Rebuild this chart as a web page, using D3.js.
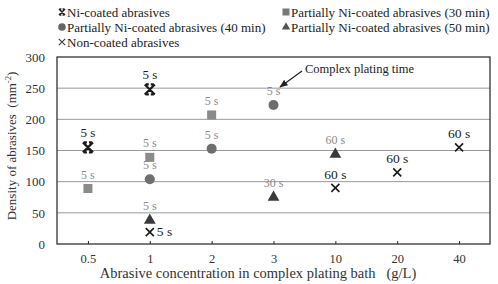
<!DOCTYPE html>
<html>
<head>
<meta charset="utf-8">
<script src="https://cdn.jsdelivr.net/npm/d3@7"></script>
<style>
body { margin: 0; background: #fff; }
</style>
</head>
<body>
<div id="chart"></div>
<script>
// categories on the x axis
var concentrations = ["0.5", "1", "2", "3", "10", "20", "40"];
var yTicks = [0, 50, 100, 150, 200, 250, 300];

// series: [concentration, density, label]
var niCoated = [["0.5", 155, "5 s"], ["1", 248, "5 s"]];
var partial30 = [["0.5", 89, "5 s"], ["1", 139, "5 s"], ["2", 207, "5 s"]];
var partial40 = [["1", 104, "5 s"], ["2", 153, "5 s"], ["3", 223, "5 s"]];
var partial50 = [["1", 38, "5 s"], ["3", 75, "30 s"], ["10", 144, "60 s"]];
var nonCoated = [["1", 19, "5 s"], ["10", 90, "60 s"], ["20", 115, "60 s"], ["40", 155, "60 s"]];

var width = 498, height = 284;
var margin = {top: 57, right: 8, bottom: 40, left: 57};
var serif = "Liberation Serif";

var svg = d3.select("#chart").append("svg")
	.attr("width", width)
	.attr("height", height);

var x = d3.scalePoint()
	.domain(concentrations)
	.range([margin.left, width - margin.right])
	.padding(0.5);

var y = d3.scaleLinear()
	.domain([0, 300])
	.range([height - margin.bottom, margin.top]);

// gridlines
svg.selectAll("line.grid")
	.data(yTicks.filter(function(d){ return d > 0 && d < 300; }))
	.enter().append("line")
	.attr("x1", margin.left).attr("x2", width - margin.right)
	.attr("y1", function(d){ return y(d); })
	.attr("y2", function(d){ return y(d); })
	.attr("stroke", "#9a9a9a")
	.attr("stroke-width", 1);

// frame
svg.append("rect")
	.attr("x", margin.left).attr("y", margin.top)
	.attr("width", width - margin.left - margin.right)
	.attr("height", height - margin.top - margin.bottom)
	.attr("fill", "none")
	.attr("stroke", "#222")
	.attr("stroke-width", 1.2);

// y axis
var yAxis = svg.append("g")
	.attr("transform", "translate(" + margin.left + ",0)")
	.call(d3.axisLeft(y).tickValues(yTicks).tickSize(0).tickPadding(12));
yAxis.select(".domain").remove();
yAxis.selectAll("text").attr("font-size", 13).attr("fill", "#333");

// x axis
var xAxis = svg.append("g")
	.attr("transform", "translate(0," + (height - margin.bottom) + ")")
	.call(d3.axisBottom(x).tickSize(3).tickPadding(7));
xAxis.select(".domain").remove();
xAxis.selectAll("line").attr("y1", -3).attr("y2", 0).attr("stroke", "#222");
xAxis.selectAll("text").attr("font-size", 12.5).attr("fill", "#333");

// axis titles
svg.append("text")
	.attr("x", 258).attr("y", 278)
	.attr("text-anchor", "middle")
	.attr("font-size", 14.5).attr("fill", "#333")
	.text("Abrasive concentration in complex plating bath\u00a0\u00a0\u00a0(g/L)");

svg.append("text")
	.attr("transform", "translate(16,146) rotate(-90)")
	.attr("text-anchor", "middle")
	.attr("font-size", 13).attr("fill", "#333")
	.text("Density of abrasives\u00a0\u00a0(mm")
	.append("tspan").attr("dy", -5).attr("font-size", 8.5).text("-2")
	.select(function(){ return this.parentNode; })
	.append("tspan").attr("dy", 5).text(")");

// marker paths
var asterisk = "M-5,-5L5,5M5,-5L-5,5M-4,-5L-1,-5M1,-5L4,-5M-4,5L-1,5M1,5L4,5";
var cross = "M-4,-4L4,4M4,-4L-4,4";

function drawSeries(data, kind, color){
	var g = svg.append("g");
	var pts = g.selectAll("g").data(data).enter().append("g")
		.attr("transform", function(d){ return "translate(" + x(d[0]) + "," + y(d[1]) + ")"; });
	if (kind == "asterisk") {
		pts.append("path").attr("d", asterisk).attr("stroke", color).attr("stroke-width", 2.2).attr("fill", "none");
	} else if (kind == "cross") {
		pts.append("path").attr("d", cross).attr("stroke", color).attr("stroke-width", 1.6).attr("fill", "none");
	} else if (kind == "square") {
		pts.append("rect").attr("x", -4.5).attr("y", -4.5).attr("width", 9).attr("height", 9).attr("fill", color);
	} else if (kind == "circle") {
		pts.append("circle").attr("r", 5).attr("fill", color);
	} else {
		pts.append("path").attr("d", d3.symbol(d3.symbolTriangle, 60)()).attr("fill", color);
	}
	return pts;
}

var ni = drawSeries(niCoated, "asterisk", "#1a1a1a");
var p30 = drawSeries(partial30, "square", "#8a8a8a");
var p40 = drawSeries(partial40, "circle", "#6e6e6e");
var p50 = drawSeries(partial50, "triangle", "#3a3a3a");
var nc = drawSeries(nonCoated, "cross", "#1a1a1a");

function addLabels(pts, color, size){
	pts.append("text")
		.attr("x", 0).attr("y", -10)
		.attr("text-anchor", "middle")
		.attr("font-size", size)
		.attr("fill", color)
		.text(function(d){ return d[2]; });
}
addLabels(ni, "#222", 13);
addLabels(p30, "#8a8a8a", 12);
addLabels(p40, "#8a8a8a", 12);
addLabels(p50, "#8a8a8a", 12);
// non-coated: first label sits to the right of the marker
nc.append("text")
	.attr("x", function(d, i){ return i == 0 ? 7 : 0; })
	.attr("y", function(d, i){ return i == 0 ? 4 : -9; })
	.attr("text-anchor", function(d, i){ return i == 0 ? "start" : "middle"; })
	.attr("font-size", 13.5)
	.attr("fill", "#222")
	.text(function(d){ return d[2]; });

// annotation
svg.append("text")
	.attr("x", 305).attr("y", 73)
	.attr("font-size", 12.5).attr("fill", "#222")
	.text("Complex plating time");
svg.append("defs").append("marker")
	.attr("id", "arr").attr("viewBox", "0 0 10 10")
	.attr("refX", 9).attr("refY", 5)
	.attr("markerWidth", 7).attr("markerHeight", 7)
	.attr("orient", "auto")
	.append("path").attr("d", "M0,1L10,5L0,9z").attr("fill", "#222");
svg.append("line")
	.attr("x1", 302).attr("y1", 71)
	.attr("x2", 280).attr("y2", 87)
	.attr("stroke", "#222").attr("stroke-width", 1.2)
	.attr("marker-end", "url(#arr)");

// legend
var legendItems = [
	["Ni-coated abrasives", "asterisk", 62, 12],
	["Partially Ni-coated abrasives (30 min)", "square", 286, 12],
	["Partially Ni-coated abrasives (40 min)", "circle", 62, 27],
	["Partially Ni-coated abrasives (50 min)", "triangle", 286, 27],
	["Non-coated abrasives", "cross", 62, 42]
];
var leg = svg.selectAll("g.legend").data(legendItems).enter().append("g")
	.attr("class", "legend")
	.attr("transform", function(d){ return "translate(" + d[2] + "," + d[3] + ")"; });
leg.each(function(d){
	var g = d3.select(this);
	if (d[1] == "asterisk") g.append("path").attr("d", asterisk).attr("transform", "scale(0.6)").attr("stroke", "#222").attr("stroke-width", 2.5).attr("fill", "none");
	else if (d[1] == "cross") g.append("path").attr("d", cross).attr("transform", "scale(0.8)").attr("stroke", "#333").attr("stroke-width", 1.3).attr("fill", "none");
	else if (d[1] == "square") g.append("rect").attr("x", -3.5).attr("y", -3.5).attr("width", 7).attr("height", 7).attr("fill", "#777");
	else if (d[1] == "circle") g.append("circle").attr("r", 3.8).attr("fill", "#666");
	else g.append("path").attr("d", d3.symbol(d3.symbolTriangle, 30)()).attr("fill", "#555");
});
leg.append("text")
	.attr("x", 5).attr("y", 4.5)
	.attr("font-size", 13).attr("fill", "#222")
	.text(function(d){ return d[0]; });

// every text gets the serif face directly
svg.selectAll("text").attr("font-family", serif);
</script>
</body>
</html>
